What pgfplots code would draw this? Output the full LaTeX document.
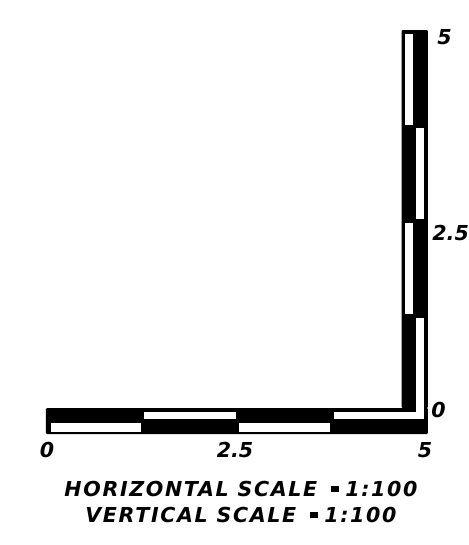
\documentclass[border=0pt]{standalone}
\usepackage{fontspec}
\usepackage{pgfplots}
\pgfplotsset{compat=1.18}
\newfontfamily\cad{DejaVu Sans}[LetterSpace=8]
\newfontfamily\cadnum{DejaVu Sans}
\newcommand{\sq}{\hspace{14pt}\raisebox{4.5pt}{\rule{8pt}{6pt}}\hspace{6pt}}
\begin{document}
\begin{tikzpicture}
\begin{axis}[width=469pt, height=545pt, scale only axis, hide axis,
  xmin=-0.602, xmax=5.537, ymin=-1.812, ymax=5.397, clip=false]
\path (rel axis cs:0,0) rectangle (rel axis cs:1,1);
% horizontal bar (black body)
\addplot[fill=black, draw=none, rounded corners=1pt] coordinates {(0,0) (5,0) (5,-0.344) (0,-0.344)} --cycle;
% vertical bar (black body)
\addplot[fill=black, draw=none, rounded corners=1pt] coordinates {(4.655,0) (5,0) (5,5.0) (4.655,5.0)} --cycle;
% horizontal white strips, top row
\addplot[fill=white, draw=none] coordinates {(1.283,-0.053) (2.487,-0.053) (2.487,-0.146) (1.283,-0.146)} --cycle;
\addplot[fill=white, draw=none] coordinates {(3.770,-0.053) (4.948,-0.053) (4.948,-0.146) (3.770,-0.146)} --cycle;
% horizontal white strips, bottom row
\addplot[fill=white, draw=none] coordinates {(0.065,-0.198) (1.243,-0.198) (1.243,-0.317) (0.065,-0.317)} --cycle;
\addplot[fill=white, draw=none] coordinates {(2.526,-0.198) (3.717,-0.198) (3.717,-0.317) (2.526,-0.317)} --cycle;
% vertical white strips
\addplot[fill=white, draw=none] coordinates {(4.699,4.947) (4.804,4.947) (4.804,3.743) (4.699,3.743)} --cycle;
\addplot[fill=white, draw=none] coordinates {(4.843,3.704) (4.948,3.704) (4.948,2.500) (4.843,2.500)} --cycle;
\addplot[fill=white, draw=none] coordinates {(4.699,2.447) (4.804,2.447) (4.804,1.243) (4.699,1.243)} --cycle;
\addplot[fill=white, draw=none] coordinates {(4.843,1.190) (4.948,1.190) (4.948,-0.146) (4.843,-0.146)} --cycle;
% labels
\begin{scope}[every node/.style={inner sep=0pt, font=\cadnum\bfseries\itshape\fontsize{20.6}{24}\selectfont}]
\node[anchor=base] at (axis cs:0.013,-0.648) {0};
\node[anchor=base] at (axis cs:2.474,-0.648) {2.5};
\node[anchor=base] at (axis cs:4.961,-0.648) {5};
\node[anchor=base west] at (axis cs:5.120,4.802) {5};
\node[anchor=base west] at (axis cs:5.055,2.222) {2.5};
\node[anchor=base west] at (axis cs:5.042,-0.119) {0};
\end{scope}
\begin{scope}[every node/.style={inner sep=0pt, font=\cad\bfseries\itshape\fontsize{20.6}{24}\selectfont}]
\node[anchor=base] at (axis cs:2.552,-1.164) {HORIZONTAL SCALE\sq1:100};
\node[anchor=base] at (axis cs:2.552,-1.521) {VERTICAL SCALE\sq1:100};
\end{scope}
\end{axis}
\end{tikzpicture}
\end{document}
